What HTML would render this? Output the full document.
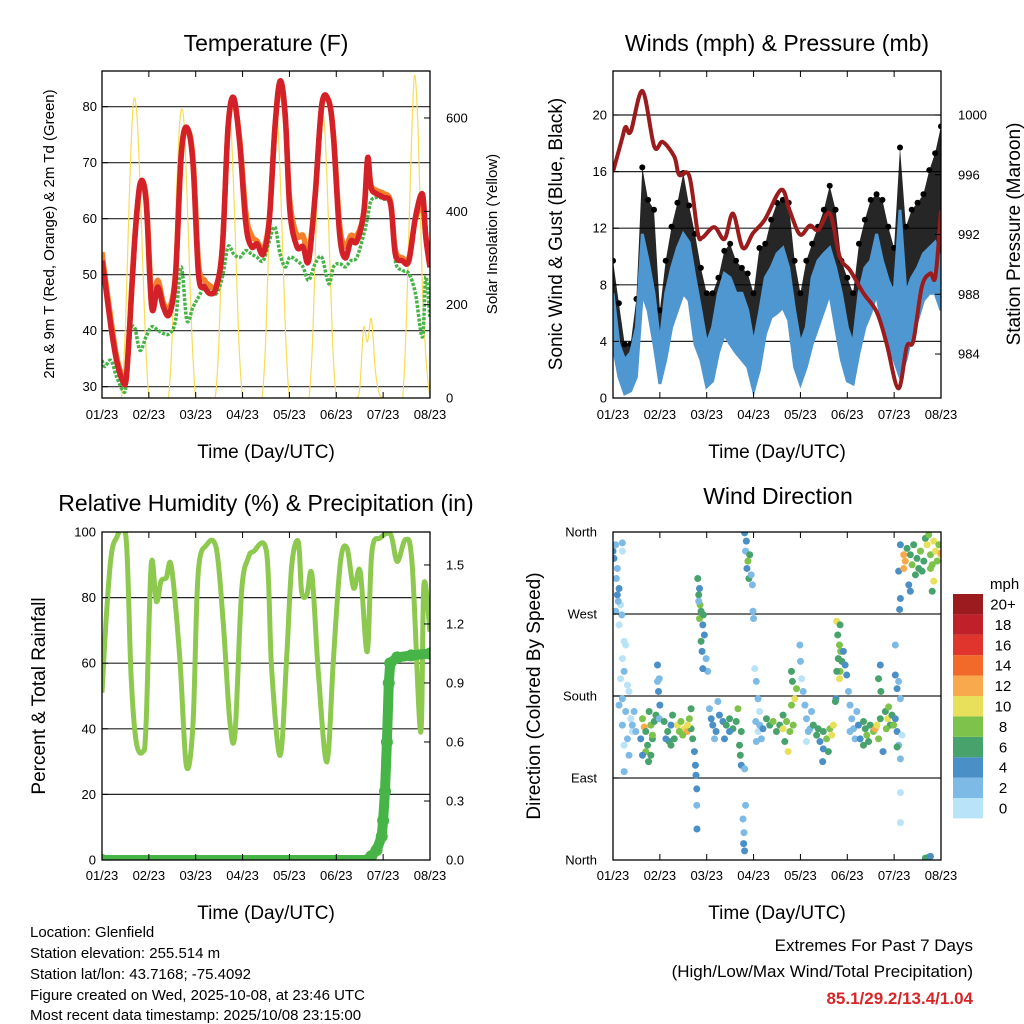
<!DOCTYPE html>
<html><head><meta charset="utf-8"><style>
html,body{margin:0;padding:0;background:#fff;}
svg{display:block;font-family:"Liberation Sans",sans-serif;}
</style></head><body>
<svg id="chart" width="1024" height="1024" viewBox="0 0 1024 1024" xmlns="http://www.w3.org/2000/svg">
<defs>
<clipPath id="c1"><rect x="102" y="71" width="328" height="327"/></clipPath>
<clipPath id="c2"><rect x="613" y="71" width="328" height="327"/></clipPath>
<clipPath id="c3"><rect x="102" y="532" width="328" height="328"/></clipPath>
<clipPath id="c4"><rect x="613" y="532" width="328" height="328"/></clipPath>
</defs>
<text x="266" y="51" font-size="23" text-anchor="middle">Temperature (F)</text>
<text x="777" y="51" font-size="23" text-anchor="middle">Winds (mph) &amp; Pressure (mb)</text>
<text x="266" y="511" font-size="23" text-anchor="middle">Relative Humidity (%) &amp; Precipitation (in)</text>
<text x="778" y="504" font-size="23" text-anchor="middle">Wind Direction</text>
<text x="266" y="458" font-size="19" text-anchor="middle">Time (Day/UTC)</text>
<text x="777" y="458" font-size="19" text-anchor="middle">Time (Day/UTC)</text>
<text x="266" y="919" font-size="19" text-anchor="middle">Time (Day/UTC)</text>
<text x="777" y="919" font-size="19" text-anchor="middle">Time (Day/UTC)</text>
<text transform="translate(54,234) rotate(-90)" font-size="15" text-anchor="middle">2m &amp; 9m T (Red, Orange) &amp; 2m Td (Green)</text>
<text transform="translate(497,234) rotate(-90)" font-size="15" text-anchor="middle">Solar Insolation (Yellow)</text>
<text transform="translate(562,234) rotate(-90)" font-size="19" text-anchor="middle">Sonic Wind &amp; Gust (Blue, Black)</text>
<text transform="translate(1020,234) rotate(-90)" font-size="19" text-anchor="middle">Station Pressure (Maroon)</text>
<text transform="translate(45,696) rotate(-90)" font-size="19" text-anchor="middle">Percent &amp; Total Rainfall</text>
<text transform="translate(540,696) rotate(-90)" font-size="19" text-anchor="middle">Direction (Colored By Speed)</text>
<g font-size="15">
<text x="30" y="937">Location: Glenfield</text>
<text x="30" y="958">Station elevation: 255.514 m</text>
<text x="30" y="979">Station lat/lon: 43.7168; -75.4092</text>
<text x="30" y="1000">Figure created on Wed, 2025-10-08, at 23:46 UTC</text>
<text x="30" y="1020">Most recent data timestamp: 2025/10/08 23:15:00</text>
</g>
<text x="973" y="951" font-size="17" text-anchor="end">Extremes For Past 7 Days</text>
<text x="973" y="977" font-size="17" text-anchor="end">(High/Low/Max Wind/Total Precipitation)</text>
<text x="973" y="1004" font-size="17" font-weight="bold" fill="#d62728" text-anchor="end">85.1/29.2/13.4/1.04</text>
</svg>
<script>
const dayLabels=["01/23","02/23","03/23","04/23","05/23","06/23","07/23","08/23"];
const tempTimes=[0,0.06,0.19,0.31,0.44,0.51,0.57,0.69,0.81,0.94,1.06,1.19,1.31,1.44,1.57,1.69,1.81,1.94,2.06,2.19,2.31,2.44,2.57,2.69,2.81,2.94,3.07,3.19,3.31,3.44,3.57,3.69,3.8,3.91,4.01,4.16,4.29,4.41,4.55,4.69,4.84,4.94,5.07,5.19,5.31,5.44,5.59,5.67,5.74,5.87,6.01,6.16,6.26,6.41,6.55,6.69,6.84,6.91,7.0];
const temp2m=[52.5,49,40.7,34.7,31,31,37.7,55,66.2,63.2,44.2,47.8,44.2,43,50,71.5,76.3,70,50,47.8,46.6,47.8,55,76.3,81.6,73.3,59,55,55.5,53.7,59.7,76.3,84.6,78.6,61.4,55,55,52.5,64.4,80.4,81,74.5,57.3,53,56,56,61.4,70.9,65.6,64.4,63.8,62.6,53.7,52.5,52.5,60.3,64.4,56.7,51.3];
const temp9m=[54,50,42,35.5,31.5,31,38,55.5,65.5,64,46,49,45,44,50.5,71,76,71,52,49,48,48,55,76,81,74,61,57,56,54.5,60,76,84,78,63,57,57,54,64,80,81,75,59,55,57,57,61,70,66,65,64.5,63,54.5,53,53,60,62,57,52];
const dewpoint=[34.7,33.6,34.7,31.8,29.4,30,38.9,40.7,36.5,38.9,40.7,40.1,39.5,39.5,41.9,51.4,41.9,44.2,46,47.8,47.2,46.6,49.6,55,53.7,53.1,54.3,53.7,53.1,52.5,56,58.5,53.7,51.4,53.1,52.5,51.4,49,52,53.1,48.4,51.4,52,51.4,52.5,53.1,57.3,60.3,63.2,63.8,63.5,62.6,52.5,50.8,50.2,46.6,38.9,49.6,42.4];
const solarHours=[0,2,4,6,8,10,12,14,16,18,20,22,24,26,28,30,32,34,36,38,40,42,44,46,48,50,52,54,56,58,60,62,64,66,68,70,72,74,76,78,80,82,84,86,88,90,92,94,96,98,100,102,104,106,108,110,112,114,116,118,120,122,124,126,128,130,132,134,136,138,140,142,144,146,148,150,152,154,156,158,160,162,164,166,168];
const solar=[0,0,0,0,0,0,150,430,630,600,400,150, 0,0,0,0,0,0,140,420,600,590,380,140, 0,0,0,0,0,0,130,400,570,580,380,130, 0,0,0,0,0,0,140,410,580,590,390,140, 0,0,0,0,0,0,140,420,600,580,380,130, 0,0,0,0,0,0,20,150,120,170,60,10, 0,0,0,0,0,0,180,480,690,560,250,80, 0];
const windTimes=[0,0.125,0.25,0.375,0.5,0.625,0.75,0.875,1,1.125,1.25,1.375,1.5,1.625,1.75,1.875,2,2.125,2.25,2.375,2.5,2.625,2.75,2.875,3,3.125,3.25,3.375,3.5,3.625,3.75,3.875,4,4.125,4.25,4.375,4.5,4.625,4.75,4.875,5,5.125,5.25,5.375,5.5,5.625,5.75,5.875,6,6.125,6.25,6.375,6.5,6.625,6.75,6.875,7];
const windLo=[3.8,1.5,0.3,0.5,1.5,7.4,6.2,3.8,1,2.7,5,6.2,7.4,6.9,3.8,2.7,0.8,1.2,3.2,4.5,3.8,3.2,2.7,2.2,0.5,2,4.5,5.7,6,6.4,5.5,2.2,1,2.2,3.8,5,6.2,7.4,5,2.7,1.2,1,3.2,5,6,7.4,5,3.8,2.7,1.5,2.7,4.5,5.5,6.9,7.4,7.4,6.2];
const windHi=[7.4,3.8,2.7,3.2,5,11.6,9.7,7.4,3.8,7.4,9.2,10.6,11.6,11,8.5,6.2,3.8,5,7.4,8.8,8.5,7.4,7.4,6.2,3.8,6,8.5,9.2,10.2,10.6,9.2,6.2,3.8,5,8.5,9.7,10.2,10.6,9.2,7.4,5,3.8,7.4,9.2,9.7,11.6,9.7,8.3,7.4,13.3,7.4,8.5,9.2,10.2,10.6,11,9.7];
const gust=[9.7,6.7,3.8,3.8,7,16.3,14,13.3,6.2,9.7,12.1,13.8,15.9,13.6,11.6,9.2,7.4,7.4,8.5,10.4,10.9,9.7,9.2,8.8,7.4,10.6,10.9,12.6,13.8,14,13.8,9.7,7.4,9.7,10.9,12.1,13.3,15,13.3,9.7,8.5,7.4,10.9,12.6,14,14.4,14,12.1,10.6,17.7,12.1,13.3,13.8,14.4,16.1,17.3,19.2];
const presTimes=[0,0.2,0.27,0.38,0.63,0.88,1.06,1.31,1.41,1.63,1.81,1.91,2.16,2.38,2.56,2.77,2.99,3.24,3.59,3.77,3.99,4.2,4.38,4.63,4.84,5.06,5.34,5.63,5.84,6.09,6.27,6.41,6.59,6.77,6.88,7.0];
const pressure=[996.2,998.5,999.2,998.9,1001.6,997.9,998.2,997.2,996,995.9,992.1,991.8,992.5,991.7,993.4,991.1,992.1,993,995,993.6,992,992.6,992.3,993.4,990.5,989.6,988.1,986.8,984.7,981.7,984.5,984.9,988.5,989.4,989.2,993.6];
const rhTimes=[0,0.09,0.19,0.3,0.51,0.62,0.73,0.87,0.94,1.05,1.16,1.26,1.37,1.48,1.66,1.8,1.94,2.05,2.23,2.44,2.59,2.73,2.84,2.98,3.12,3.23,3.51,3.62,3.8,3.94,4.05,4.19,4.26,4.37,4.48,4.62,4.8,4.94,5.09,5.23,5.37,5.51,5.66,5.76,5.94,6.16,6.3,6.48,6.62,6.8,6.87,7.0];
const rh=[51,73.7,92,98,98.7,56,36,33,41,90,78.8,85,86,89.5,61.5,28.8,41,87,96,95,71.7,42,39,81.9,92,94,94,58.4,31.9,61.5,90,97,81.9,80.8,87,56.4,29.9,61.5,91,95,82.9,88,63.5,94,98.2,99.2,91,97.7,90,39,83.9,69.6];
const precipTimes=[0,5.66,5.75,5.86,5.97,6.0,6.04,6.08,6.12,6.15,6.3,6.6,7.0];
const precip=[0,0,0.02,0.05,0.12,0.2,0.35,0.6,0.9,1.0,1.03,1.04,1.05];
const dirHours=[0,0.5,1.4,4.8,4.8,2.2,1.7,3.1,2.2,3.9,4.5,2.7,1.4,3.1,
5.7,6.5,4.8,5.7,7.4,3.9,4.8,8.2,3.1,6.5,9.1,4.8,9.9,7.4,5.7,8.2,5.7,10.8,11.7,9.9,
15.1,16,16.8,18.5,19.4,20.2,17.7,21.1,14.2,16.8,19.4,15.1,22,18.2,20.2,
22.8,23.7,23.3,24,23.7,22.8,
26.2,28,29.7,30.5,28.8,27.1,31.4,29.7,
33.1,34.8,36.5,37.9,39.1,35.7,34,40,38.2,40.8,
40,41.7,42.2,42.9,42.9,43,42.5,
43.4,44.3,43.9,44.6,45.1,44.3,46,46.8,45.1,45.6,47.7,48.5,46,43.9,46.3,
49.4,50.3,51.1,52.8,54.5,52,53.7,56.3,58,59.7,61.4,63.1,64,65.7,64.8,65.2,65.7,57.1,59.7,
67.4,67.9,66.6,67.1,66.9,67.4,
67.4,68.3,67.9,69.1,70,68.6,69.6,70.8,71.4,71.7,72,
72.6,73.4,74.3,75.1,73.1,74.3,76,75.1,76.8,73.4,
78.6,80.3,82,83.7,85.4,87.1,88.9,90.6,88,89.7,87.1,92.3,93.1,91.9,91.4,94,91.4,
95.7,96,96.6,97.4,98.3,99.1,100,99.1,100.9,101.7,
102.6,104.3,106,107.7,109.4,111.1,112,112.9,107.7,107.4,110.3,105.1,
114.6,116.3,115.1,116,116.6,115.4,117.2,116.3,116,118,118.9,119.7,114.6,114.2,113.9,
120.6,121.4,122.3,123.2,124.9,125.7,124,121.4,126.6,
128.3,129.2,130,131.7,133.4,134.3,135.2,136,136.9,130.9,128.3,138.3,136,136.9,137.2,
139.5,140.7,142,140,142.9,143.7,141.2,
144.6,145.5,146.3,147.2,144.6,145.5,146.3,147.2,148,144.6,147.2,147.2,145.5,
146.3,147.2,148.9,149.7,148.9,150.6,152.3,153.2,154,155.7,157.5,158.3,160,160.9,161.7,162.6,163.5,164.3,165.2,166,166.9,167.8,168,163.5,164.3,162.6,152.3,151.5,147.2,146.8,159.2,156.6,154.9,
160,161.7,162.6];
const dirDeg=[339,331,346,348,339,320,309,298,291,280,269,284,273,258,
240,236,221,207,192,199,177,185,170,163,155,148,141,133,126,115,97,163,141,148,
155,146,141,163,148,133,126,152,133,119,115,115,159,108,137,
214,199,185,170,155,196,
152,141,148,159,130,133,133,126,
148,152,144,141,155,137,141,144,148,133,
166,119,104,78,60,34,93,
309,298,291,280,273,265,258,247,240,229,221,207,210,284,269,
166,155,148,141,159,133,174,152,148,155,144,152,166,141,126,115,104,133,141,
100,60,45,30,18,10,
359,350,339,328,335,320,309,313,302,273,265,
210,196,177,163,152,141,133,148,144,130,
155,148,152,141,148,144,152,141,130,119,159,148,177,196,207,188,170,
236,218,199,185,170,155,141,130,144,163,
148,137,130,141,133,144,137,148,122,108,119,144,
262,258,247,236,229,221,218,207,199,229,214,203,207,177,174,
185,170,155,144,163,148,133,141,133,
152,144,137,148,141,144,148,133,155,130,126,119,199,214,185,
163,155,148,144,159,148,168,
203,188,196,177,155,141,126,111,137,236,74,41,124,
317,346,335,328,320,342,335,324,346,331,339,317,353,346,357,335,324,350,339,328,346,335,337,295,306,320,295,302,287,275,328,320,313,
2,3,4];
const dirSpeed=[5,4,3,2,1,3,2,4,5,1,2,3,2,1,
1,0,1,2,1,1,2,1,2,2,1,2,1,2,1,3,2,2,3,2,
8,12,7,6,8,7,6,7,5,8,7,5,7,6,9,
4,3,4,4,3,3,
6,7,5,6,6,5,7,6,
10,9,10,12,9,8,9,7,10,6,
6,4,4,4,3,4,5,
6,5,7,8,6,8,4,4,6,4,3,2,5,3,7,
3,4,4,4,4,3,2,5,6,6,6,7,8,6,6,6,4,4,5,
2,2,3,2,4,4,
4,4,3,8,6,4,6,3,2,3,2,
1,2,2,1,2,1,3,2,4,2,
6,7,8,6,7,10,8,9,7,10,7,8,10,7,6,8,9,
2,2,1,2,2,2,3,1,3,2,
7,6,5,7,8,9,10,10,4,4,6,6,
10,7,6,8,9,7,6,8,10,4,4,4,6,4,7,
2,2,2,3,3,4,2,2,4,
7,6,8,7,8,12,10,8,7,7,6,4,6,5,6,
7,10,7,8,6,8,8,
4,4,2,2,4,4,3,2,1,2,1,1,6,
4,4,12,12,12,6,7,8,6,7,8,6,6,10,8,9,9,10,11,9,8,10,12,6,10,8,4,4,4,4,7,6,6,
6,6,5];
const speedBins=["0","2","4","6","8","10","12","14","16","18","20+"];
const speedColors=["#b9e3f7","#7dbae6","#4a8fc6","#47a26c","#7dc24a","#e8e05a","#f8a94b","#f26a2a","#e0352c","#c0202a","#9b1b1e"];
const tempTicks=[30,40,50,60,70,80];
const solarTicks=[0,200,400,600];
const windTicks=[0,4,8,12,16,20];
const presTicks=[984,988,992,996,1000];
const rhTicks=[0,20,40,60,80,100];
const precipTicks=["0.0","0.3","0.6","0.9","1.2","1.5"];
const dirTicks=["North","East","South","West","North"];

const NS="http://www.w3.org/2000/svg";
const svg=document.getElementById('chart');
function mk(tag,attrs,parent){const e=document.createElementNS(NS,tag);for(const k in attrs)e.setAttribute(k,attrs[k]);(parent||svg).appendChild(e);return e;}
function xT(x0,d){return x0+d*328/7;}
const yTemp=t=>386.7-(t-30)*5.6;
const ySolar=s=>398-s*0.4667;
const ySpd=s=>398-s*14.15;
const yPres=p=>115-(p-1000)*14.94;
const yRH=r=>860-r*3.28;
const yPrec=p=>860-p*196.7;
const yDir=d=>860-d*328/360;

function frame(name){
  const g=mk('g',{});
  
  
  return g;
}
function hgrid(g,x0,ys){ys.forEach(y=>{const l=mk('line',{x1:x0,x2:x0+328,y1:y,y2:y,stroke:'#222','stroke-width':1.2},g);});}
function xticks(g,x0,y0,y1,ly){
  dayLabels.forEach((lab,i)=>{const x=xT(x0,i);
    const a=mk('line',{x1:x,x2:x,y1:y1,y2:y1-6,stroke:'#000'},g);
    const b=mk('line',{x1:x,x2:x,y1:y0,y2:y0+6,stroke:'#000'},g);
    const t=mk('text',{x:x,y:ly,'font-size':13,'text-anchor':'middle'},g);t.textContent=lab;});
}
function ylabels(g,vals,yf,x,anchor,tickX,dir,name){
  vals.forEach(v=>{const y=yf(parseFloat(v));
    const t=mk('text',{x:x,y:y+4.5,'font-size':13,'text-anchor':anchor},g);t.textContent=v;
    const l=mk('line',{x1:tickX,x2:tickX+dir*6,y1:y,y2:y,stroke:'#000'},g);});
}
function border(g,x0,y0,h){const r=mk('rect',{x:x0,y:y0,width:328,height:h,fill:'none',stroke:'#000','stroke-width':1.3},g);}
function pathOf(xs,ys){return xs.map((x,i)=>(i?'L':'M')+x.toFixed(1)+' '+ys[i].toFixed(1)).join(' ');}
function smoothOf(xs,ys){
  let d='M'+xs[0].toFixed(1)+' '+ys[0].toFixed(1);
  for(let i=0;i<xs.length-1;i++){
    const x0=xs[Math.max(0,i-1)],y0=ys[Math.max(0,i-1)],x1=xs[i],y1=ys[i],x2=xs[i+1],y2=ys[i+1],x3=xs[Math.min(xs.length-1,i+2)],y3=ys[Math.min(xs.length-1,i+2)];
    const c1x=x1+(x2-x0)/6,c1y=y1+(y2-y0)/6,c2x=x2-(x3-x1)/6,c2y=y2-(y3-y1)/6;
    d+=' C'+c1x.toFixed(1)+' '+c1y.toFixed(1)+' '+c2x.toFixed(1)+' '+c2y.toFixed(1)+' '+x2.toFixed(1)+' '+y2.toFixed(1);
  }
  return d;
}

// Panel 1
const g1=frame('temperature-panel');
hgrid(g1,102,tempTicks.map(yTemp));
const c1=mk('g',{'clip-path':'url(#c1)'},g1);
const solarLine=mk('path',{d:smoothOf(solarHours.map(h=>xT(102,h/24)),solar.map(ySolar)),fill:'none',stroke:'#f7dc55','stroke-width':1.2},c1);


const tx=tempTimes.map(d=>xT(102,d));
const dewLine=mk('path',{d:smoothOf(tx,dewpoint.map(yTemp)),fill:'none',stroke:'#46b446','stroke-width':3.5,'stroke-dasharray':'3 1.5'},c1);


const t9=mk('path',{d:smoothOf(tx,temp9m.map(yTemp)),fill:'none',stroke:'#f47f2a','stroke-width':5.5,'stroke-linejoin':'round'},c1);


const t2=mk('path',{d:smoothOf(tx,temp2m.map(yTemp)),fill:'none',stroke:'#d42027','stroke-width':5.5,'stroke-linejoin':'round'},c1);


border(g1,102,71,327);
xticks(g1,102,71,398,419);
ylabels(g1,tempTicks.map(String),yTemp,97,'end',102,1,'temp-y-tick-label');
ylabels(g1,solarTicks.map(String),ySolar,446,'start',430,-1,'solar-y-tick-label');

// Panel 2
const g2=frame('wind-panel');
hgrid(g2,613,windTicks.slice(1).map(ySpd));
const c2=mk('g',{'clip-path':'url(#c2)'},g2);
const wx=windTimes.map(d=>xT(613,d));
const gustBand=mk('path',{d:pathOf(wx,gust.map(ySpd))+' '+pathOf(wx.slice().reverse(),windLo.slice().reverse().map(ySpd)).replace('M','L')+' Z',fill:'#000','fill-opacity':0.85},c2);


gust.forEach((v,i)=>{const c=mk('circle',{cx:wx[i],cy:ySpd(v),r:3,fill:'#000'},c2);

});
const windBand=mk('path',{d:pathOf(wx,windHi.map(ySpd))+' '+pathOf(wx.slice().reverse(),windLo.slice().reverse().map(ySpd)).replace('M','L')+' Z',fill:'#4f97d0',stroke:'#4f97d0','stroke-width':3},c2);


const presLine=mk('path',{d:smoothOf(presTimes.map(d=>xT(613,d)),pressure.map(yPres)),fill:'none',stroke:'#9b1c1c','stroke-width':4,'stroke-linejoin':'round'},c2);


border(g2,613,71,327);
xticks(g2,613,71,398,419);
ylabels(g2,windTicks.map(String),ySpd,607,'end',613,1,'wind-y-tick-label');
ylabels(g2,presTicks.map(String),yPres,958,'start',941,-1,'pressure-y-tick-label');

// Panel 3
const g3=frame('humidity-panel');
hgrid(g3,102,rhTicks.slice(1,5).map(yRH));
const c3=mk('g',{'clip-path':'url(#c3)'},g3);
const rhLine=mk('path',{d:smoothOf(rhTimes.map(d=>xT(102,d)),rh.map(yRH)),fill:'none',stroke:'#8dc94f','stroke-width':5,'stroke-linejoin':'round'},c3);


const pxs=precipTimes.map(d=>xT(102,d)), pys=precip.map(yPrec);
const precLine=mk('path',{d:pathOf(pxs,pys),fill:'none',stroke:'#46b446','stroke-width':10,'stroke-linecap':'round','stroke-linejoin':'round'},c3);


precip.forEach((v,i)=>{const c=mk('circle',{cx:pxs[i],cy:pys[i],r:6,fill:'#46b446'},c3);

});
border(g3,102,532,328);
xticks(g3,102,532,860,880);
ylabels(g3,rhTicks.map(String),yRH,96,'end',102,1,'rh-y-tick-label');
ylabels(g3,precipTicks,yPrec,446,'start',430,-1,'precip-y-tick-label');

// Panel 4
const g4=frame('wind-direction-panel');
hgrid(g4,613,[90,180,270].map(yDir));
const c4=mk('g',{'clip-path':'url(#c4)'},g4);
dirHours.forEach((h,i)=>{const bin=Math.min(10,Math.floor(dirSpeed[i]/2));
const c=mk('circle',{cx:xT(613,h/24),cy:yDir(dirDeg[i]),r:3.5,fill:speedColors[bin]},c4);

});
border(g4,613,532,328);
xticks(g4,613,532,860,880);
dirTicks.forEach((lab,i)=>{const y=yDir(i*90);
const t=mk('text',{x:597,y:y+4.5,'font-size':13,'text-anchor':'end'},g4);t.textContent=lab;


const l=mk('line',{x1:613,x2:619,y1:y,y2:y,stroke:'#000'},g4);

});

// Colorbar
const cb=mk('g',{});


const cbt=mk('text',{x:990,y:589,'font-size':15},cb);cbt.textContent='mph';


speedBins.forEach((lab,i)=>{const k=10-i;const y=594+k*20.4;
const r=mk('rect',{x:953,y:y,width:30,height:20.4,fill:speedColors[i]},cb);


const t=mk('text',{x:1003,y:y+15.5,'font-size':15,'text-anchor':'middle'},cb);t.textContent=lab;

});
</script>
</body></html>
